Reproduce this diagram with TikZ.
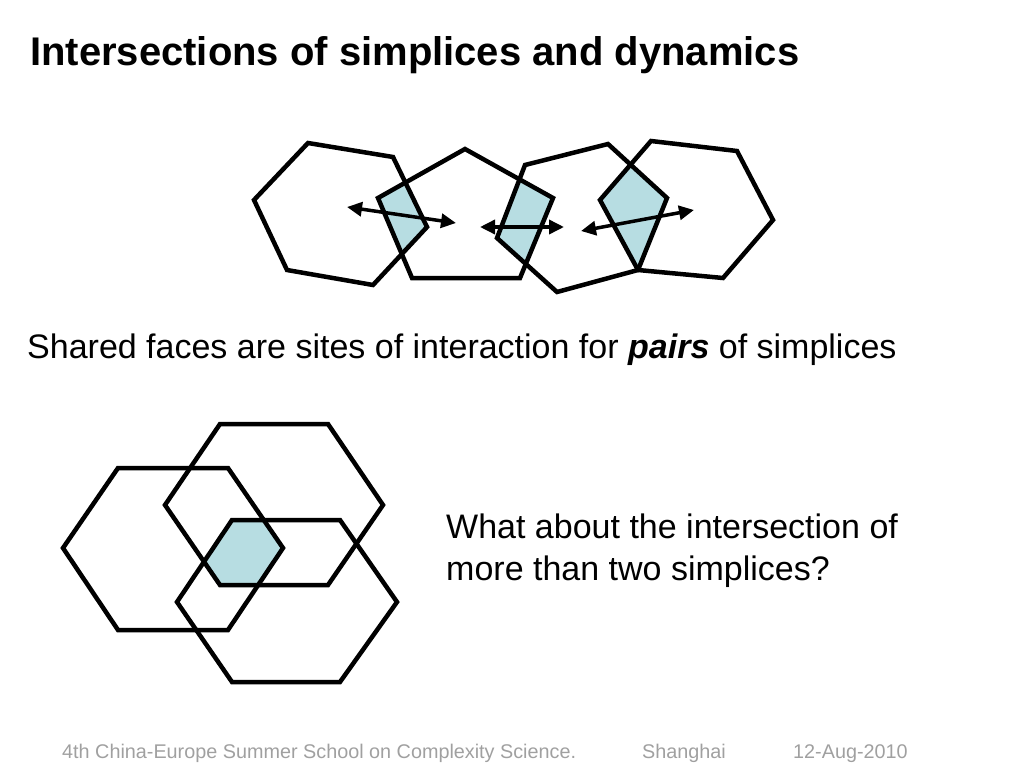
\documentclass[tikz,border=0pt]{standalone}
\usepackage{fontspec}
\setmainfont{Liberation Sans}
\usetikzlibrary{arrows.meta}
\definecolor{lblue}{RGB}{183,221,226}
\definecolor{foot}{RGB}{160,160,160}
\begin{document}
\begin{tikzpicture}[x=1pt,y=-1pt,
  poly/.style={line width=4.5pt,line join=miter,draw=black},
  dbl/.style={line width=3.5pt,{Triangle[length=15pt,width=14pt]}-{Triangle[length=15pt,width=14pt]}},
  txt/.style={anchor=base west,inner sep=0pt}]
\useasboundingbox (0,0) rectangle (1024,768);
% top row polygons
\def\hexA{(254,200) -- (308,143) -- (393,157) -- (427,227) -- (373,285) -- (287,270) -- cycle}
\def\pentB{(378,198) -- (465,149) -- (553,198) -- (520,278) -- (412,278) -- cycle}
\def\hexC{(497,238) -- (525,165) -- (608,144) -- (667,198) -- (638,270) -- (557,292) -- cycle}
\def\hexD{(600,200) -- (651,141) -- (737,151) -- (773,220) -- (723,278) -- (638,270) -- cycle}
\begin{scope}\clip \hexA; \fill[lblue] \pentB; \end{scope}
\begin{scope}\clip \pentB; \fill[lblue] \hexC; \end{scope}
\begin{scope}\clip \hexC; \fill[lblue] \hexD; \end{scope}
\draw[poly] \hexA;
\draw[poly] \pentB;
\draw[poly] \hexC;
\draw[poly] \hexD;
\coordinate (a1) at (347,207); \coordinate (b1) at (456,223);
\coordinate (a2) at (480,227); \coordinate (b2) at (564,227);
\coordinate (a3) at (581,231); \coordinate (b3) at (694,210);
\draw[dbl] (a1) -- (b1);
\draw[dbl] (a2) -- (b2);
\draw[dbl] (a3) -- (b3);
% bottom hexagons
\def\hexE{(63,548) -- (118,468) -- (228,468) -- (283,548) -- (228,630) -- (118,630) -- cycle}
\def\hexF{(165,505) -- (220,424) -- (328,424) -- (383,505) -- (328,585) -- (220,585) -- cycle}
\def\hexG{(177,602) -- (232,520) -- (340,520) -- (397,602) -- (340,682) -- (232,682) -- cycle}
\begin{scope}\clip \hexE; \clip \hexF; \fill[lblue] \hexG; \end{scope}
\draw[poly] \hexE;
\draw[poly] \hexF;
\draw[poly] \hexG;
% texts
\node[txt,font=\bfseries\fontsize{40}{46}\selectfont] (title) at (30,65) {Intersections of simplices and dynamics};
\node[txt,font=\fontsize{34}{40}\selectfont] (shared) at (27,358) {Shared faces are sites of interaction for \textbf{\textit{pairs}} of simplices};
\node[txt,font=\fontsize{34}{42}\selectfont] (what) at (446,538) {What about the intersection of};
\node[txt,font=\fontsize{34}{42}\selectfont] (what2) at (446,580) {more than two simplices?};
\node[txt,font=\fontsize{19.8}{22}\selectfont,text=foot] (f1) at (62,758) {4th China-Europe Summer School on Complexity Science.};
\node[txt,font=\fontsize{19.8}{22}\selectfont,text=foot] (f2) at (642,758) {Shanghai};
\node[txt,font=\fontsize{19.8}{22}\selectfont,text=foot] (f3) at (793,758) {12-Aug-2010};
\end{tikzpicture}
\end{document}
